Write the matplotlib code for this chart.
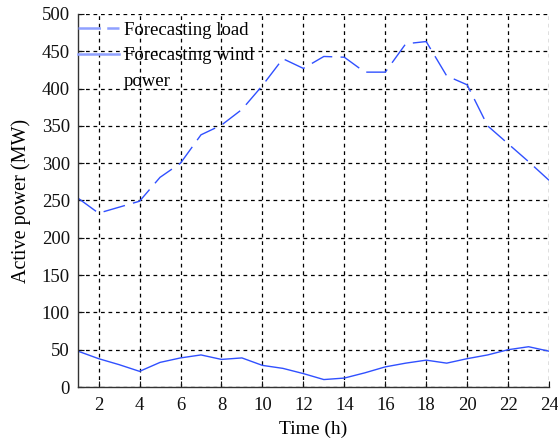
import matplotlib
matplotlib.use("Agg")
import matplotlib.pyplot as plt
from matplotlib.legend_handler import HandlerLine2D

hours = list(range(1, 25))
load = [253, 233, 241, 249, 281, 300, 338, 351, 372, 404, 440, 427,
        443, 442, 422, 422, 460, 463, 417, 405, 350, 326, 302, 277]
wind = [48, 38, 30, 21, 33, 39, 43, 37, 39, 29, 25, 18,
        10, 12, 19, 27, 32, 36, 32, 38, 43, 50, 54, 48]
xticks = list(range(2, 25, 2))
yticks = list(range(0, 501, 50))

plt.rcParams['font.family'] = ['Liberation Serif', 'DejaVu Serif']


class UpHandler(HandlerLine2D):
    """Place the handle at the first line of a two-line label."""
    def __init__(self, shift, **kw):
        super().__init__(**kw)
        self.shift = shift

    def create_artists(self, legend, orig_handle, xdescent, ydescent,
                       width, height, fontsize, trans):
        arts = super().create_artists(legend, orig_handle, xdescent, ydescent,
                                      width, height, fontsize, trans)
        for a in arts:
            yd = a.get_ydata()
            a.set_ydata([y + self.shift for y in yd])
        return arts


fig = plt.figure(figsize=(5.58, 4.41), dpi=100)
ax = fig.add_axes([0.14, 0.1224, 0.844, 0.846])

line_color = '#3050ff'
l1, = ax.plot(hours, load, color=line_color, lw=1.0, ls=(0, (16, 6)),
              label='Forecasting load')
l2, = ax.plot(hours, wind, color=line_color, lw=1.0, ls='-',
              label='Forecasting wind\npower')

ax.set_xlim(1, 24)
ax.set_ylim(0, 500)
ax.set_xticks(xticks)
ax.set_yticks(yticks)
ax.grid(True, color='black', ls=(0, (3, 3)), lw=0.9)
ax.set_axisbelow(True)
for s in ['top', 'right']:
    ax.spines[s].set_visible(False)
for s in ['left', 'bottom']:
    ax.spines[s].set_color('#333333')
    ax.spines[s].set_linewidth(1.0)
ax.tick_params(direction='in', length=4, labelsize=13.5, colors='#111111')
ax.tick_params(axis='x', pad=7)
ax.tick_params(axis='y', pad=6)

ax.set_xlabel('Time (h)', fontsize=14, labelpad=5)
ax.set_ylabel('Active power (MW)', fontsize=14.5, labelpad=8)

leg = ax.legend(loc='upper left', bbox_to_anchor=(0.0, 0.98), frameon=False,
                fontsize=13.5, handlelength=2.2, handletextpad=0.25,
                borderaxespad=0.0, borderpad=0.0, labelspacing=0.45,
                handler_map={l2: UpHandler(shift=10.5)})
for t in leg.get_texts():
    t.set_linespacing(1.7)
hs = leg.legend_handles
hs[0].set_linestyle((0, (9, 2.5)))
for h in hs:
    h.set_color('#8fa0ff')
    h.set_linewidth(1.8)

fig.savefig('out.png', dpi=100)
